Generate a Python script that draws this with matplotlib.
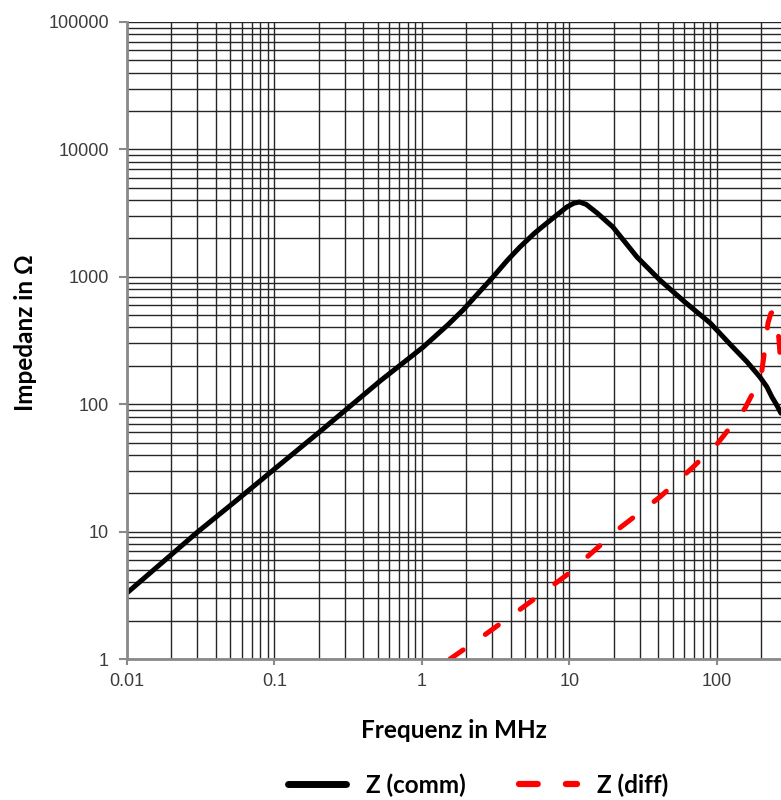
import matplotlib
matplotlib.use("Agg")
import matplotlib.pyplot as plt
from matplotlib.ticker import LogLocator, NullFormatter, FixedLocator, FixedFormatter
from matplotlib.lines import Line2D

# Z (comm) - gleichtakt impedanz
f_comm = [0.01, 0.02, 0.03, 0.0557, 0.1, 0.2, 0.3, 0.52, 1.02, 1.5, 1.9, 3.03,
          3.8, 4.62, 5.8, 7.03, 9.6, 10.7, 11.7, 13.0, 15.4, 19.7, 28.7, 41, 60,
          90, 128, 160, 196, 218, 236, 255, 272]
z_comm = [3.3, 6.6, 9.9, 17.7, 31, 60, 89, 152, 281, 420, 549, 996,
          1350, 1714, 2200, 2643, 3530, 3780, 3865, 3700, 3170, 2460, 1430, 944, 640,
          434, 281, 215, 163, 137, 114, 98, 85]

# Z (diff) - gegentakt impedanz
f_diff = [1.55, 2.55, 4.76, 9.6, 22, 41.1, 68.7, 101.6, 122, 155, 180, 202,
          211, 222, 232, 239, 250, 263, 272]
z_diff = [1.0, 1.49, 2.51, 4.57, 10.7, 18.7, 32, 49.6, 65, 93, 130, 185,
          266, 434, 515, 532, 470, 331, 190]

x_ticks = [0.01, 0.1, 1, 10, 100]
x_labels = ['0.01', '0.1', '1', '10', '100']
y_ticks = [1, 10, 100, 1000, 10000, 100000]
y_labels = ['1', '10', '100', '1000', '10000', '100000']

fig = plt.figure(figsize=(7.81, 8), dpi=100)
ax = fig.add_axes([127/781, 1-659/800, (781-127)/781, (659-22)/800])

ax.set_xscale('log')
ax.set_yscale('log')
ax.set_xlim(0.01, 272)
ax.set_ylim(1, 100000)

ax.plot(f_comm, z_comm, color='black', lw=3.6, solid_capstyle='round',
        solid_joinstyle='round')
ax.plot(f_diff, z_diff, color='#ff0000', lw=3.6, dashes=(3.2, 5.4),
        dash_capstyle='round')

# gitter
ax.xaxis.set_major_locator(FixedLocator(x_ticks))
ax.xaxis.set_major_formatter(FixedFormatter(x_labels))
ax.yaxis.set_major_locator(FixedLocator(y_ticks))
ax.yaxis.set_major_formatter(FixedFormatter(y_labels))
ax.xaxis.set_minor_locator(LogLocator(base=10, subs=range(2, 10), numticks=20))
ax.yaxis.set_minor_locator(LogLocator(base=10, subs=range(2, 10), numticks=20))
ax.xaxis.set_minor_formatter(NullFormatter())
ax.yaxis.set_minor_formatter(NullFormatter())
ax.grid(True, which='both', color='#262626', lw=1.0)
ax.set_axisbelow(True)

ax.tick_params(which='major', length=6, width=1.5, color='#8a8a8a',
               labelsize=13, labelcolor='#3c3c3c', pad=7)
ax.tick_params(axis='x', which='major', length=4, pad=6)
ax.tick_params(which='minor', length=0)
for txt in ax.get_xticklabels() + ax.get_yticklabels():
    txt.set_family('Liberation Sans')

ax.spines['top'].set_visible(False)
ax.spines['right'].set_visible(False)
ax.spines['left'].set_color('#8a8a8a')
ax.spines['left'].set_linewidth(2)
ax.spines['bottom'].set_color('#8a8a8a')
ax.spines['bottom'].set_linewidth(2)

lab = dict(family='Lato', weight='bold', size=17.5, color='black')
fig.text(454/781, 1-731/800, 'Frequenz in MHz', ha='center', va='center', **lab)
fig.text(26/781, 1-333/800, 'Impedanz in Ω', ha='center', va='center',
         rotation=90, **lab)

handles = [Line2D([], [], color='black', lw=5, solid_capstyle='round'),
           Line2D([], [], color='#ff0000', lw=4.5, dashes=(3.0, 4.5),
                  dash_capstyle='round')]
fig.legend(handles, ['Z (comm)', 'Z (diff)'], loc='center',
           bbox_to_anchor=(478/781, 1-785/800), ncol=2, frameon=False,
           handlelength=2.4, handletextpad=0.8, columnspacing=2.2,
           borderpad=0, prop=dict(family='Lato', weight='bold', size=17.5))

fig.savefig('out.png', dpi=100)
